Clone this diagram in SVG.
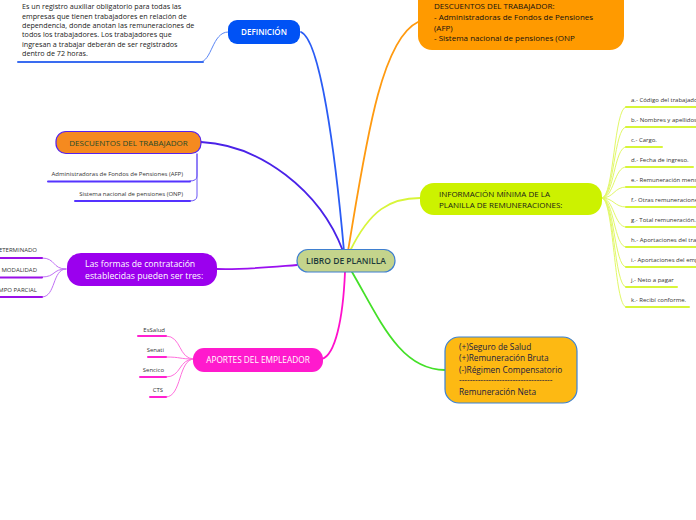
<svg xmlns="http://www.w3.org/2000/svg" width="696" height="520" viewBox="0 0 696 520">
<style>
text{font-family:"Open Sans","Noto Sans","Liberation Sans",sans-serif}
.br{fill:none;stroke-width:1.8;stroke-linecap:round}
.sub{fill:none;stroke-width:1;stroke-linecap:round}
.ul{fill:none;stroke-width:2;stroke-linecap:round}
.s{font-size:6px;fill:#333}
.m{font-size:8px}
</style>
<rect width="696" height="520" fill="#ffffff"/>
<g id="connectors">
<path class="br" stroke="#2a5cf5" d="M344 251 C335 150,320 40,301 32"/>
<path class="br" stroke="#ff9a10" d="M348 251 C365 150,380 40,418 22"/>
<path class="br" stroke="#d8f53a" d="M350 251 C370 210,390 198,420 198"/>
<path class="br" stroke="#44e028" d="M352 272 C380 320,400 370,445 370"/>
<path class="br" stroke="#ff10cc" d="M345 272 C343 320,335 355,322 359"/>
<path class="br" stroke="#9a10f0" d="M297 265 C260 268,240 270,217 269"/>
<path class="br" stroke="#4a22e8" d="M343 251 C320 190,260 145,201 142"/>
<!-- definicion -->
<path class="sub" stroke="#5a86f5" d="M228 32 C212 32,212 62,200 62"/>
<path class="ul" stroke="#3a6cf0" d="M18 62 L203 62"/>
<!-- descuentos -->
<path class="sub" stroke="#6a55f5" d="M197 154 L197 176 Q197 181,190 181"/>
<path class="sub" stroke="#6a55f5" d="M197 154 L197 196 Q197 201,190 201"/>
<path class="ul" stroke="#5533ff" d="M48 181.5 L190 181.5"/>
<path class="ul" stroke="#5533ff" d="M75 201 L190 201"/>
<!-- formas -->
<path class="sub" stroke="#c070f5" d="M66 269 C52 269,56 258,42 258"/>
<path class="sub" stroke="#c070f5" d="M66 269 C52 269,56 277,42 277"/>
<path class="sub" stroke="#c070f5" d="M66 269 C52 269,56 297,42 297"/>
<path class="ul" stroke="#9a10e8" d="M0 258 L42 258 M0 277.5 L42 277.5 M0 297 L42 297"/>
<!-- aportes -->
<path class="sub" stroke="#ff70dd" d="M194 359 C178 359,182 336,166 336"/>
<path class="sub" stroke="#ff70dd" d="M194 359 C178 359,182 357,166 357"/>
<path class="sub" stroke="#ff70dd" d="M194 359 C178 359,182 377,166 377"/>
<path class="sub" stroke="#ff70dd" d="M194 359 C178 359,182 397,166 397"/>
<path class="ul" stroke="#ff22d0" d="M138 336 L166 336 M148 357 L166 357 M140 377 L166 377 M150 397 L166 397"/>
<!-- informacion -->
<g stroke="#e2f868" class="sub">
<path d="M602 198 C614 198,614 107,626 107"/>
<path d="M602 198 C614 198,614 127,626 127"/>
<path d="M602 198 C614 198,614 147,626 147"/>
<path d="M602 198 C614 198,614 167,626 167"/>
<path d="M602 198 C614 198,614 187,626 187"/>
<path d="M602 198 C614 198,614 207,626 207"/>
<path d="M602 198 C614 198,614 227,626 227"/>
<path d="M602 198 C614 198,614 247,626 247"/>
<path d="M602 198 C614 198,614 267,626 267"/>
<path d="M602 198 C614 198,614 287,626 287"/>
<path d="M602 198 C614 198,614 307,626 307"/>
</g>
<g stroke="#d8f53a" class="ul">
<path d="M626 107 L700 107"/>
<path d="M626 127 L700 127"/>
<path d="M626 147 L662 147"/>
<path d="M626 167 L693 167"/>
<path d="M626 187 L700 187"/>
<path d="M626 207 L700 207"/>
<path d="M626 227 L700 227"/>
<path d="M626 247 L700 247"/>
<path d="M626 267 L700 267"/>
<path d="M626 287 L677 287"/>
<path d="M626 307 L689 307"/>
</g>
</g>
<g id="center">
<rect x="297" y="249.5" width="98" height="22.5" rx="11" fill="#c4d48c" stroke="#3f7fd0" stroke-width="1.2"/>
<text x="346" y="264" text-anchor="middle" class="m" fill="#1c3a3a" style="font-size:8.5px;font-weight:600">LIBRO  DE PLANILLA</text>
</g>
<g id="definicion">
<rect x="228" y="20" width="72" height="24" rx="9" fill="#0052f5"/>
<text x="264" y="35" text-anchor="middle" class="m" fill="#ffffff" style="font-weight:600">DEFINICIÓN</text>
</g>
<g id="definicion-texto" font-size="7.2" fill="#222">
<text x="22" y="9">Es un registro auxiliar obligatorio para todas las</text>
<text x="22" y="18.5">empresas que tienen trabajadores en relación de</text>
<text x="22" y="28">dependencia, donde anotan las remuneraciones de</text>
<text x="22" y="37">todos los trabajadores. Los trabajadores que</text>
<text x="22" y="47">ingresan a trabajar deberán de ser registrados</text>
<text x="22" y="56">dentro de 72 horas.</text>
</g>
<g id="descuentos-top">
<rect x="418" y="-14" width="206" height="64" rx="14" fill="#ff9a00"/>
<g class="m" fill="#111">
<text x="434" y="9">DESCUENTOS DEL TRABAJADOR:</text>
<text x="434" y="20">- Administradoras de Fondos de Pensiones</text>
<text x="434" y="30.5">(AFP)</text>
<text x="434" y="41">- Sistema nacional de pensiones (ONP</text>
</g>
</g>
<g id="informacion">
<rect x="420" y="183" width="182" height="32" rx="14" fill="#ccf200"/>
<text x="439" y="197" class="m" fill="#1a1a1a">INFORMACIÓN MÍNIMA DE LA</text>
<text x="439" y="208" class="m" fill="#1a1a1a">PLANILLA DE REMUNERACIONES:</text>
</g>
<g id="informacion-items" class="s">
<text x="631" y="102">a.- Código del trabajador</text>
<text x="631" y="122">b.- Nombres y apellidos</text>
<text x="631" y="142">c.- Cargo.</text>
<text x="631" y="162">d.- Fecha de ingreso.</text>
<text x="631" y="182">e.- Remuneración mensual</text>
<text x="631" y="202">f.- Otras remuneraciones</text>
<text x="631" y="222">g.- Total remuneración.</text>
<text x="631" y="242">h.- Aportaciones del trabajador</text>
<text x="631" y="262">i.- Aportaciones del empleador</text>
<text x="631" y="282">j.- Neto a pagar</text>
<text x="631" y="302">k.- Recibí conforme.</text>
</g>
<g id="resultado">
<rect x="445" y="337" width="132" height="66" rx="14" fill="#fdb913" stroke="#3b82d6" stroke-width="1.2"/>
<g class="m" fill="#1a2040" style="font-size:8.3px">
<text x="459" y="350">(+)Seguro de Salud</text>
<text x="459" y="361">(+)Remuneración Bruta</text>
<text x="459" y="373">(-)Régimen Compensatorio</text>
<text x="459" y="383">-----------------------------------</text>
<text x="459" y="395">Remuneración Neta</text>
</g>
</g>
<g id="aportes">
<rect x="193" y="348" width="130" height="24" rx="11" fill="#ff1acd"/>
<text x="258" y="363" text-anchor="middle" class="m" fill="#ffffff" style="font-size:8.3px">APORTES DEL EMPLEADOR</text>
</g>
<g id="aportes-items" class="s" text-anchor="end">
<text x="165" y="332">EsSalud</text>
<text x="164" y="352">Senati</text>
<text x="164" y="372">Sencico</text>
<text x="163" y="392">CTS</text>
</g>
<g id="formas">
<rect x="67" y="253" width="150" height="33" rx="14" fill="#9b00ee"/>
<text x="85" y="267" class="m" fill="#ffffff" style="font-size:8.7px">Las formas de contratación</text>
<text x="85" y="279" class="m" fill="#ffffff" style="font-size:8.7px">establecidas pueden ser tres:</text>
</g>
<g id="formas-items" class="s" text-anchor="end" style="font-size:6px">
<text x="37" y="252">A PLAZO INDETERMINADO</text>
<text x="37" y="272">SUJETO A MODALIDAD</text>
<text x="37" y="292">A TIEMPO PARCIAL</text>
</g>
<g id="descuentos">
<rect x="56" y="131.5" width="145" height="22" rx="10" fill="#f58a1f" stroke="#5522ee" stroke-width="1.2"/>
<text x="128.5" y="145.5" text-anchor="middle" class="m" fill="#1d4a2a">DESCUENTOS DEL TRABAJADOR</text>
</g>
<g id="descuentos-items" class="s">
<text x="183" y="176" text-anchor="end">Administradoras de Fondos de Pensiones (AFP)</text>
<text x="183" y="196" text-anchor="end">Sistema nacional de pensiones (ONP)</text>
</g>
</svg>
